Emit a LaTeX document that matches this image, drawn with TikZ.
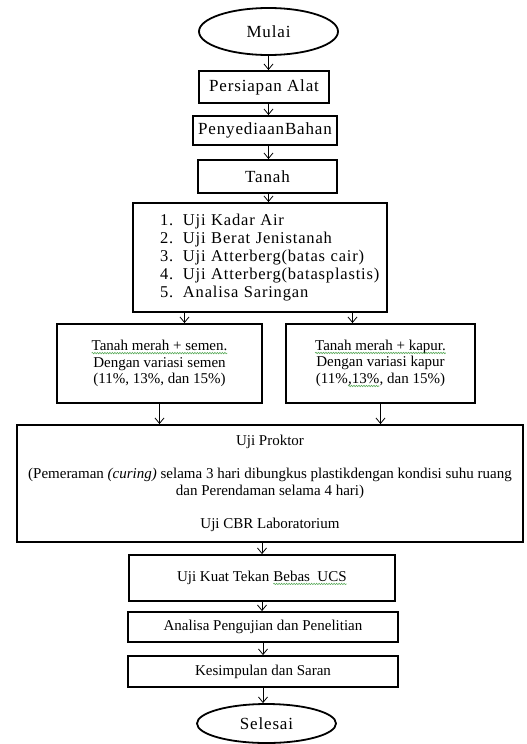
\documentclass[tikz,border=0pt]{standalone}
\usepackage{fontspec}
\setmainfont{Liberation Serif}
\usetikzlibrary{arrows.meta,shapes.geometric,decorations.pathmorphing}
\definecolor{squig_green}{RGB}{90,170,90}
\newcommand\toptxt{\fontsize{17}{19}\selectfont\addfontfeature{LetterSpace=5}}
\newcommand\listtxt{\fontsize{16.5}{18}\selectfont\addfontfeature{LetterSpace=5}}
\newcommand\lowtxt{\fontsize{15}{16.5}\selectfont}
% green spell-check wave under a piece of text
\newcommand\squig[1]{\tikz[baseline=(sq.base)]{%
  \node[draw=none,inner sep=0pt,outer sep=0pt,minimum size=0pt,text width={},align=none] (sq) {#1};
  \draw[-,squig_green,line width=0.6pt,decorate,decoration={snake,amplitude=0.7pt,segment length=2.5pt}]
    ([yshift=-2.5pt]sq.base west) -- ([yshift=-2.5pt]sq.base east);}}

\begin{document}
\begin{tikzpicture}[->,>={Straight Barb[length=5.5pt,width=9pt]},line width=0.8pt,x=1pt,y=-1pt]
    \tikzstyle{stepbox}=[draw,line width=1.8pt,inner sep=0pt,align=center,text=black]
    \tikzstyle{terminal}=[stepbox,ellipse,font=\toptxt]
    \tikzstyle{topbox}=[stepbox,font=\toptxt]
    \tikzstyle{lowbox}=[stepbox,font=\lowtxt]

    \useasboundingbox (0,0) rectangle (527,744);

    \node[terminal,minimum width=139pt,minimum height=47pt] (mulai)     at (268.5,31.5) {Mulai};
    \node[topbox,minimum width=130pt,minimum height=32pt]   (persiapan) at (264,87)     {Persiapan Alat};
    \node[topbox,minimum width=144pt,minimum height=29pt]   (bahan)     at (265,130.5)  {PenyediaanBahan};
    \node[topbox,minimum width=139pt,minimum height=33pt]   (tanah)     at (267.5,176.5){Tanah};
    \node[stepbox,font=\listtxt,align=left,text width=254pt,minimum height=109pt] (list) at (260,257.5)
      {\hspace*{27pt}\makebox[23pt][l]{1.}Uji Kadar Air\\
       \hspace*{27pt}\makebox[23pt][l]{2.}Uji Berat Jenistanah\\
       \hspace*{27pt}\makebox[23pt][l]{3.}Uji Atterberg(batas cair)\\
       \hspace*{27pt}\makebox[23pt][l]{4.}Uji Atterberg(batasplastis)\\
       \hspace*{27pt}\makebox[23pt][l]{5.}Analisa Saringan};
    \node[lowbox,minimum width=205pt,minimum height=79pt] (semen) at (159.5,363.5)
      {\squig{Tanah merah + semen.}\\ Dengan variasi semen\\ (11\%, 13\%, dan 15\%)};
    \node[lowbox,minimum width=189pt,minimum height=79pt] (kapur) at (380.5,363.5)
      {\squig{Tanah merah + kapur.}\\ Dengan variasi kapur\\ (11\%\squig{,13\%}, dan 15\%)};
    \node[lowbox,minimum width=506pt,minimum height=117pt] (proktor) at (270,483.5)
      {Uji Proktor\\[17pt]
       (Pemeraman \textit{(curing)} selama 3 hari dibungkus plastikdengan kondisi suhu ruang\\
       dan Perendaman selama 4 hari)\\[17pt]
       Uji CBR Laboratorium};
    \node[lowbox,minimum width=266pt,minimum height=46pt] (ucs)     at (262,578)   {Uji Kuat Tekan \squig{Bebas\ \ UCS}};
    \node[lowbox,minimum width=270pt,minimum height=30pt] (analisa) at (263,627)   {Analisa Pengujian dan Penelitian};
    \node[lowbox,minimum width=270pt,minimum height=31pt] (saran)   at (263,671.5) {Kesimpulan dan Saran};
    \node[terminal,minimum width=139pt,minimum height=39pt] (selesai) at (266.5,723.5) {Selesai};

    \path
     (mulai.south) edge (mulai.south |- persiapan.north)
     (mulai.south |- persiapan.south) edge (mulai.south |- bahan.north)
     (mulai.south |- bahan.south) edge (mulai.south |- tanah.north)
     (mulai.south |- tanah.south) edge (mulai.south |- list.north)
     ([xshift=25pt]semen.north |- list.south) edge ([xshift=25pt]semen.north)
     ([xshift=-28pt]kapur.north |- list.south) edge ([xshift=-28pt]kapur.north)
     (semen.south) edge (semen.south |- proktor.north)
     (kapur.south) edge (kapur.south |- proktor.north)
     (ucs.north |- proktor.south) edge (ucs.north)
     (ucs.south) edge (ucs.south |- analisa.north)
     (analisa.south) edge (analisa.south |- saran.north)
     (saran.south) edge (saran.south |- selesai.north);
\end{tikzpicture}
\end{document}
